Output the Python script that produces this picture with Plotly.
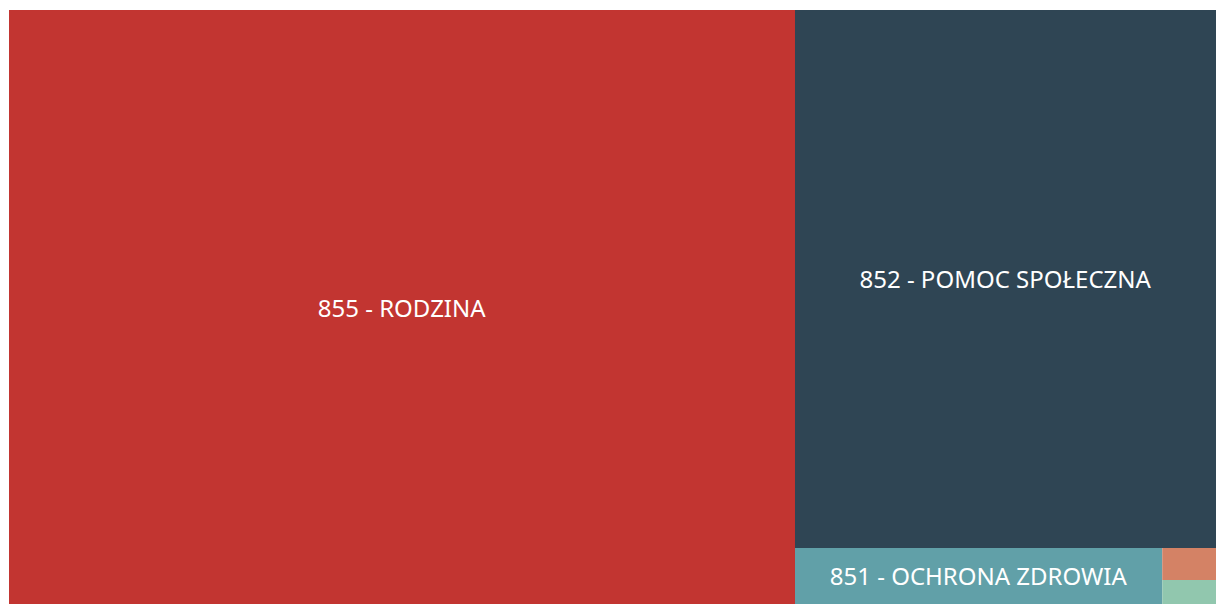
import plotly.graph_objects as go

# Budget sections (dział) and their share of spending
labels = [
    "855 - RODZINA",
    "852 - POMOC SPOŁECZNA",
    "851 - OCHRONA ZDROWIA",
    "853 - POZOSTAŁE ZADANIA W ZAKRESIE POLITYKI SPOŁECZNEJ",
    "854 - EDUKACYJNA OPIEKA WYCHOWAWCZA",
]
values = [65.12, 31.59, 2.87, 0.24, 0.18]
colors = ["#c23531", "#2f4554", "#61a0a8", "#d48265", "#91c7ae"]

fig = go.Figure(
    go.Treemap(
        labels=labels,
        parents=[""] * len(labels),
        values=values,
        marker=dict(colors=colors, line=dict(width=0), pad=dict(t=0, l=0, r=0, b=0)),
        tiling=dict(packing="squarify", squarifyratio=1, pad=0),
        textinfo="label",
        textposition="middle center",
        textfont=dict(family="Noto Sans, Open Sans, sans-serif", size=24, color="#ffffff"),
        pathbar=dict(visible=False),
        sort=True,
    )
)

fig.update_layout(
    width=1216,
    height=604,
    margin=dict(l=9, r=0, t=10, b=0),
    paper_bgcolor="#ffffff",
    uniformtext=dict(minsize=16, mode="hide"),
)

fig.write_html("out.html")
